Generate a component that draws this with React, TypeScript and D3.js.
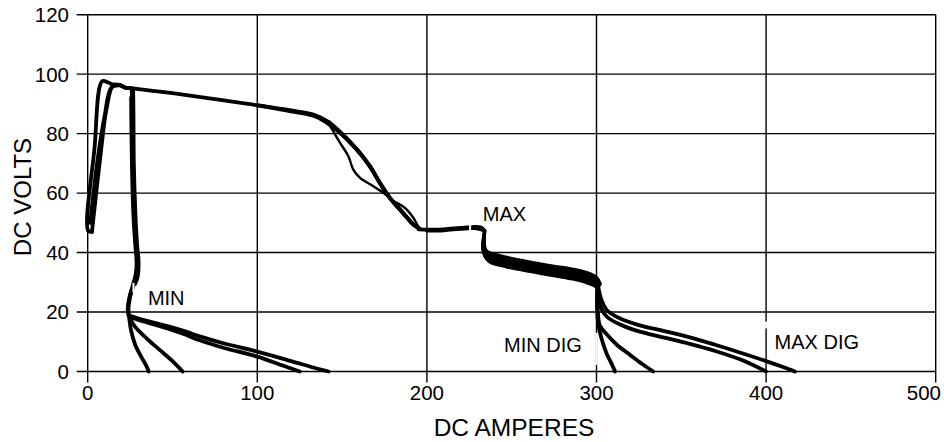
import React from "react";
import * as d3 from "d3";

const xTicks = [0, 100, 200, 300, 400, 500];
const yTicks = [0, 20, 40, 60, 80, 100, 120];

// MIN family: start loops
const minStartA: [number, number][] = [[2.5, 47], [0.3, 47.3], [4, 75], [8.5, 97.6], [12, 97.2], [15, 96.5], [19, 96.3], [22, 95.5], [26, 95.2]];
const minStartB: [number, number][] = [[2.5, 47], [8, 75], [11, 88], [15, 96.3], [19, 96.3], [22, 95.5], [26, 95.2]];
const minStartC: [number, number][] = [[1.5, 50], [6, 72], [10, 86], [14, 95.5], [19, 96.2], [22, 95.5], [26, 95.2]];
// MIN vertical drop (several overlapping)
const minDropA: [number, number][] = [[26, 95], [26.2, 85], [26.5, 70], [27.5, 52], [28.5, 42], [29.3, 37], [28.8, 33], [27, 29], [25, 25], [24, 21], [24.3, 19]];
const minDropB: [number, number][] = [[26.8, 95], [27, 85], [27.2, 70], [28.2, 52], [29.2, 42], [30, 37], [29.5, 32], [28, 29.5]];
const minDropC: [number, number][] = [[25.6, 92], [25.8, 80], [26.2, 66], [27, 52], [28, 43], [28.8, 37], [28.4, 33], [26.6, 29], [24.6, 25], [23.6, 21], [24, 19]];
// MIN endings
const minEnd1: [number, number][] = [[24.3, 19], [25.5, 14], [28, 9], [31.5, 5], [34.5, 2], [36, 0]];
const minEnd2: [number, number][] = [[24.5, 18.5], [28, 15], [35, 11], [43, 7], [50, 3.5], [56, 0]];
const minEnd3: [number, number][] = [[25, 18.5], [30, 17.3], [40, 15.7], [47, 14.5], [57, 12.5], [66, 10.5], [80, 8], [100, 5], [115, 2], [125, 0]];
const minEnd4: [number, number][] = [[25, 18.7], [30, 17.8], [40, 16.3], [47, 15.3], [57, 13.6], [66, 11.8], [80, 9.5], [100, 6.7], [120, 3.5], [135, 1], [142, 0]];

// MAX family
const maxTop: [number, number][] = [[26, 95.2], [30, 95], [50, 93.6], [75, 91.6], [100, 89.5], [120, 87.5], [133, 86], [141, 83.7]];
const maxTopB: [number, number][] = [[100, 89.6], [120, 87.8], [133, 86.4], [141, 84.2], [146, 81.8]];
const maxFallMain: [number, number][] = [[141, 83.7], [148.8, 80.3], [158.6, 74.7], [166.5, 69], [172.3, 63.4], [178.2, 58.4], [186, 53.3], [192, 49.4], [196, 47.9]];
const maxFallMainB: [number, number][] = [[142, 84], [149.6, 80.2], [159.4, 74.3], [167, 68.4], [172.8, 62.9], [178.6, 58], [186.4, 53], [192.4, 49.2]];
const maxFallMainC: [number, number][] = [[140, 84.5], [148, 80.8], [157.8, 75.2], [165.8, 69.5], [171.8, 63.9], [177.6, 58.8], [185.5, 53.6], [191.5, 49.7], [195.5, 48]];
const maxFallLeft: [number, number][] = [[141, 84], [142.9, 82.5], [148.8, 76.9], [153.7, 72.4], [156.6, 67.9], [160.6, 65.1], [168.4, 62.3], [174.3, 60.1], [180.2, 57.3]];
const maxFallRight: [number, number][] = [[180.2, 57.3], [187.1, 55], [192, 51.7], [195, 48.8], [197, 47.8]];
const maxFlat: [number, number][] = [[195, 47.8], [200, 47.7], [210, 47.8], [220, 48.3], [228, 48.6], [232, 48.4], [234, 47.3]];
const maxFlatB: [number, number][] = [[200, 47.4], [210, 47.5], [220, 48], [228, 48.2], [233, 47.6]];
// MAX descending band
const band1: [number, number][] = [[234, 47.3], [233.6, 43], [235, 40.5], [240, 39.3], [247, 38.3], [260, 36.8], [275, 35.3], [286, 34.3], [295, 33], [300, 31.5], [302, 29.5]];
const band2: [number, number][] = [[233.8, 46], [233.5, 42], [235.5, 39.6], [241, 38.4], [248, 37.4], [260, 36], [275, 34.6], [286, 33.5], [295, 32.2], [300.5, 30.6], [301.5, 29]];
const band3: [number, number][] = [[233.6, 45], [233.5, 41], [236, 38.6], [242, 37.4], [249, 36.4], [260, 35.2], [275, 33.8], [286, 32.7], [295, 31.4], [300.5, 29.8], [301, 28.5]];
const band4: [number, number][] = [[233.5, 44.5], [233.5, 40.5], [236.5, 37.8], [244, 36.3], [250, 35.6], [260, 34.5], [275, 33], [286, 32], [295, 30.6], [300, 29.2], [301, 28]];
const band5: [number, number][] = [[233.5, 44], [233.5, 40], [237, 37], [247, 35.3], [260, 33.8], [275, 32.3], [286, 31.2], [295, 29.8], [300, 28.5], [301, 27.5]];
// DIG endings
const digEnd1: [number, number][] = [[300.5, 28], [300.3, 22], [301, 16], [303, 11], [306, 6], [309, 2.5], [311, 0]];
const digEnd2: [number, number][] = [[300.5, 27], [300.8, 20], [302, 15.5], [306, 12.5], [312, 9], [320, 5.5], [327, 2.5], [333.5, 0]];
const digEnd3: [number, number][] = [[300.5, 27], [301.5, 23], [306, 18.5], [314, 15.8], [325, 13.5], [340, 11.4], [355, 9.3], [370, 6.9], [385, 4], [400, 0]];
const digEnd4: [number, number][] = [[301, 28.5], [303, 24], [306, 20.7], [314, 17.8], [325, 15.6], [340, 13.6], [355, 11.5], [370, 9], [385, 6.3], [400, 3.5], [410, 1.5], [417, 0]];

const curves = [
  minStartA, minStartB, minStartC, minDropA, minDropB, minDropC,
  minEnd1, minEnd2, minEnd3, minEnd4,
  maxTop, maxTopB, maxFallMain, maxFallMainB, maxFallMainC, maxFallLeft, maxFallRight,
  maxFlat, maxFlatB, band1, band2, band3, band4, band5,
  digEnd1, digEnd2, digEnd3, digEnd4,
];
const thinCurves = [maxFallLeft, maxFallRight];

const labels: { text: string; x: number; y: number }[] = [
  { text: "MIN", x: 35.5, y: 22.5 },
  { text: "MAX", x: 233, y: 50.6 },
  { text: "MIN DIG", x: 245.5, y: 6.5 },
  { text: "MAX DIG", x: 405, y: 7.7 },
];
// white gaps from label boxes: [amps, volts0, volts1]
const vGaps: [number, number, number][] = [[27, 26.5, 29.8], [225.5, 46.5, 50.5], [300, 2.2, 13], [400, 14.5, 16.8]];

const W = 944, H = 442;
const x = d3.scaleLinear().domain([0, 500]).range([87.7, 935.7]);
const y = d3.scaleLinear().domain([0, 120]).range([371.5, 14.7]);
const line = d3.line<[number, number]>().x((d) => x(d[0])).y((d) => y(d[1])).curve(d3.curveCatmullRom.alpha(0.5));

const FONT = "'Liberation Sans', Arial, Helvetica, sans-serif";

export default function App() {
  return (
    <svg width={W} height={H} style={{ position: "absolute", left: 0, top: 0, background: "#fff" }} fontFamily={FONT}>
      <rect x={0} y={0} width={W} height={H} fill="#fff" />
      {yTicks.map((t) => (
        <line key={"gy" + t} x1={x(0) - 11} x2={x(500)} y1={y(t)} y2={y(t)} stroke="#000" strokeWidth={1.4} />
      ))}
      {xTicks.map((t) => (
        <line key={"gx" + t} x1={x(t)} x2={x(t)} y1={y(120)} y2={y(0) + 11} stroke="#000" strokeWidth={1.4} />
      ))}
      {curves.map((c, i) => (
        <path key={"c" + i} d={line(c) || ""} fill="none" stroke="#000"
          strokeWidth={thinCurves.includes(c) ? 2.4 : 3.8} strokeLinecap="round" strokeLinejoin="round" />
      ))}
      {vGaps.map((g, i) => (
        <rect key={"g" + i} x={x(g[0]) - 1} width={2} y={y(g[2])} height={y(g[1]) - y(g[2])} fill="#fff" />
      ))}
      {labels.map((l) => (
        <text key={l.text} x={x(l.x)} y={y(l.y)} fontSize={20} fill="#000">{l.text}</text>
      ))}
      {yTicks.map((t) => (
        <text key={"ty" + t} x={69} y={y(t)} dy="0.36em" textAnchor="end" fontSize={20.5} fill="#000">{t}</text>
      ))}
      {xTicks.map((t, i) => (
        <text key={"tx" + t} x={i === xTicks.length - 1 ? 941 : x(t)} y={400}
          textAnchor={i === xTicks.length - 1 ? "end" : "middle"} fontSize={20.5} fill="#000">{t}</text>
      ))}
      <text transform={`translate(31,${197}) rotate(-90)`} textAnchor="middle" fontSize={24} fill="#000">DC VOLTS</text>
      <text x={514} y={436} textAnchor="middle" fontSize={24.5} fill="#000">DC AMPERES</text>
    </svg>
  );
}
